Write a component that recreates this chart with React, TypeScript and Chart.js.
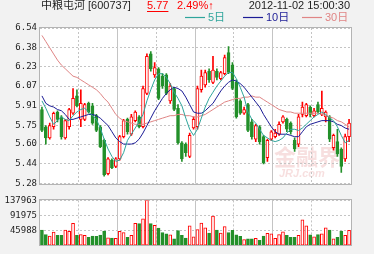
import React, { useEffect, useRef } from 'react';
import { Chart, registerables } from 'chart.js';

Chart.register(...registerables);

const TITLE = '中粮屯河 [600737]';
const LAST_PRICE = '5.77';
const CHANGE = '2.49%↑';
const TIME = '2012-11-02 15:00:30';

const OPEN = [
  5.88, 5.74, 5.65, 5.74, 5.86, 5.82, 5.65, 5.74, 5.85, 5.99,
  5.80, 5.80, 5.93, 5.91, 5.83, 5.74, 5.63, 5.36, 5.47, 5.42,
  5.48, 5.66, 5.80, 5.68, 5.79, 5.82, 5.74, 6.01, 6.33, 6.16,
  6.21, 6.15, 6.16, 5.95, 6.05, 5.89, 5.61, 5.60, 5.50, 5.73,
  5.74, 6.04, 6.08, 6.19, 6.10, 6.19, 6.13, 6.17, 6.34, 6.24,
  6.10, 5.95, 5.85, 5.92, 5.78, 5.64, 5.74, 5.66, 5.49, 5.64,
  5.66, 5.68, 5.78, 5.80, 5.77, 5.63, 5.60, 5.84, 5.83, 5.90,
  5.83, 5.92, 5.84, 5.82, 5.82, 5.57, 5.62, 5.56, 5.48, 5.66,
];
const CLOSE = [
  5.71, 5.65, 5.75, 5.85, 5.80, 5.66, 5.79, 5.88, 5.97, 5.91,
  5.93, 5.92, 5.86, 5.77, 5.71, 5.58, 5.35, 5.48, 5.41, 5.48,
  5.66, 5.79, 5.70, 5.82, 5.86, 5.74, 6.05, 6.31, 6.21, 6.22,
  5.97, 6.07, 6.01, 6.07, 5.88, 5.61, 5.48, 5.53, 5.67, 5.80,
  6.05, 6.15, 6.18, 6.12, 6.20, 6.14, 6.18, 6.30, 6.18, 6.05,
  5.82, 5.85, 5.88, 5.71, 5.66, 5.75, 5.62, 5.45, 5.63, 5.70,
  5.69, 5.76, 5.82, 5.72, 5.70, 5.56, 5.82, 5.90, 5.92, 5.84,
  5.87, 5.86, 5.89, 5.86, 5.64, 5.67, 5.52, 5.42, 5.66, 5.77,
];
const HIGH = [
  5.90, 5.75, 5.77, 5.86, 5.87, 5.83, 5.80, 5.89, 6.05, 6.04,
  6.04, 5.93, 5.94, 5.93, 5.84, 5.75, 5.64, 5.49, 5.48, 5.49,
  5.67, 5.80, 5.81, 5.84, 5.87, 5.83, 6.07, 6.33, 6.35, 6.26,
  6.22, 6.17, 6.17, 6.09, 6.06, 5.92, 5.62, 5.61, 5.69, 5.82,
  6.07, 6.20, 6.20, 6.21, 6.31, 6.21, 6.19, 6.32, 6.39, 6.26,
  6.12, 5.96, 5.90, 5.93, 5.80, 5.76, 5.75, 5.67, 5.64, 5.71,
  5.72, 5.78, 5.83, 5.81, 5.78, 5.65, 5.84, 5.94, 5.93, 5.91,
  5.89, 5.94, 6.03, 5.87, 5.83, 5.68, 5.72, 5.57, 5.68, 5.80,
];
const LOW = [
  5.70, 5.60, 5.64, 5.72, 5.78, 5.64, 5.64, 5.72, 5.84, 5.90,
  5.74, 5.79, 5.85, 5.76, 5.70, 5.57, 5.34, 5.35, 5.40, 5.41,
  5.47, 5.65, 5.68, 5.67, 5.78, 5.73, 5.73, 6.00, 6.19, 6.14,
  5.96, 6.05, 6.00, 5.93, 5.87, 5.60, 5.46, 5.50, 5.49, 5.72,
  5.72, 6.02, 6.06, 6.10, 6.09, 6.12, 6.12, 6.16, 6.17, 6.04,
  5.81, 5.84, 5.84, 5.70, 5.64, 5.62, 5.60, 5.44, 5.46, 5.63,
  5.65, 5.67, 5.77, 5.70, 5.68, 5.54, 5.58, 5.82, 5.82, 5.82,
  5.82, 5.85, 5.83, 5.78, 5.62, 5.55, 5.50, 5.37, 5.46, 5.62,
];
const VOLUME = [
  47600, 33400, 28900, 41400, 31600, 31600, 47600, 43300, 68200, 31000,
  33400, 31000, 25400, 28900, 28000, 32000, 44000, 24000, 23000, 22000,
  43300, 40000, 25400, 31000, 68000, 67000, 81600, 137963, 67000, 61500,
  53500, 40000, 35700, 33000, 21000, 46000, 31000, 23000, 60600, 26700,
  49000, 68600, 54400, 38300, 90000, 47200, 38300, 57900, 40100, 46300,
  33000, 28500, 18700, 20500, 20500, 22300, 16000, 29400, 37400, 35600,
  22300, 33900, 41900, 31200, 25000, 25000, 31200, 78400, 60600, 33000,
  26700, 33900, 35600, 54400, 47200, 20500, 25000, 44600, 31200, 46300,
];
const MA5 = [
  5.95, 5.89, 5.82, 5.76, 5.79, 5.82, 5.80, 5.79, 5.83, 5.86,
  5.88, 5.89, 5.86, 5.83, 5.80, 5.73, 5.64, 5.56, 5.50, 5.46,
  5.47, 5.53, 5.63, 5.68, 5.73, 5.78, 5.84, 5.95, 6.04, 6.12,
  6.17, 6.17, 6.14, 6.09, 6.02, 5.97, 5.91, 5.81, 5.72, 5.67,
  5.72, 5.81, 5.90, 5.97, 6.02, 6.07, 6.11, 6.15, 6.18, 6.18,
  6.13, 6.06, 5.98, 5.86, 5.80, 5.77, 5.72, 5.67, 5.65, 5.63,
  5.62, 5.63, 5.65, 5.69, 5.72, 5.72, 5.71, 5.73, 5.76, 5.79,
  5.82, 5.84, 5.86, 5.84, 5.81, 5.79, 5.74, 5.67, 5.61, 5.63,
];
const MA10 = [
  5.99, 5.93, 5.91, 5.90, 5.88, 5.87, 5.84, 5.80, 5.80, 5.81,
  5.82, 5.83, 5.84, 5.84, 5.83, 5.81, 5.78, 5.75, 5.70, 5.65,
  5.62, 5.60, 5.60, 5.60, 5.61, 5.64, 5.69, 5.75, 5.81, 5.87,
  5.92, 5.97, 6.01, 6.04, 6.06, 6.05, 6.03, 5.98, 5.92, 5.86,
  5.85, 5.85, 5.87, 5.90, 5.93, 5.98, 6.03, 6.07, 6.10, 6.12,
  6.11, 6.09, 6.06, 6.02, 5.98, 5.94, 5.90, 5.84, 5.79, 5.74,
  5.70, 5.68, 5.68, 5.68, 5.67, 5.66, 5.66, 5.70, 5.74, 5.76,
  5.77, 5.78, 5.79, 5.79, 5.79, 5.78, 5.76, 5.75, 5.73, 5.72,
];
const MA30 = [
  6.48, 6.43, 6.38, 6.33, 6.28, 6.24, 6.21, 6.18, 6.15, 6.14,
  6.12, 6.10, 6.08, 6.06, 6.04, 6.01, 5.97, 5.94, 5.89, 5.84,
  5.81, 5.79, 5.78, 5.77, 5.76, 5.76, 5.76, 5.77, 5.78, 5.79,
  5.80, 5.81, 5.82, 5.83, 5.83, 5.84, 5.84, 5.83, 5.83, 5.82,
  5.82, 5.83, 5.84, 5.86, 5.88, 5.90, 5.92, 5.94, 5.95, 5.96,
  5.97, 5.97, 5.98, 5.98, 5.99, 5.98, 5.98, 5.96, 5.94, 5.92,
  5.90, 5.88, 5.87, 5.86, 5.86, 5.85, 5.85, 5.85, 5.85, 5.85,
  5.85, 5.85, 5.84, 5.83, 5.82, 5.81, 5.79, 5.78, 5.76, 5.74,
];
const PRICE_TICKS = ['5.28', '5.44', '5.60', '5.75', '5.91', '6.07', '6.23', '6.38', '6.54'];
const VOLUME_TICKS = ['0', '45988', '91975', '137963'];
const LABELS = OPEN.map((_, i) => String(i + 1));

const RED = '#ff0000';
const GREEN = '#23902a';
const TEAL = '#2fa59c';
const NAVY = '#1c1c96';
const SALMON = '#e08585';
const PAGE_BG = '#f2f2f2';
const GRID = '#c4c4c4';
const BORDER = '#b4b4b4';
const TEXT = '#1e1e1e';
const MONO = '"DejaVu Sans Mono", monospace';
const SANS = '"Liberation Sans", "Noto Sans CJK SC", sans-serif';

const LEGEND = [
  { label: '5日', color: TEAL, x: 185 },
  { label: '10日', color: NAVY, x: 243 },
  { label: '30日', color: SALMON, x: 302 },
];

const up = (i: number) => CLOSE[i] >= OPEN[i];

function panelPlugin(drawHeader: boolean) {
  return {
    id: 'panel' + (drawHeader ? 'A' : 'B'),
    beforeDraw(chart: any) {
      const { ctx, chartArea: a, width, height } = chart;
      ctx.save();
      ctx.fillStyle = PAGE_BG;
      ctx.fillRect(0, 0, width, height);
      ctx.fillStyle = '#ffffff';
      ctx.fillRect(a.left, a.top, a.right - a.left, a.bottom - a.top);
      if (drawHeader) {
        ctx.fillStyle = 'rgba(225,140,140,0.28)';
        ctx.font = 'bold 22px "Noto Sans CJK SC", sans-serif';
        ctx.textBaseline = 'middle';
        ctx.fillText('金融界', 274, 157);
        ctx.font = 'italic bold 11px "Liberation Sans", sans-serif';
        ctx.fillText('JRJ.com', 279, 174);
      }
      ctx.restore();
    },
    beforeDatasetsDraw(chart: any) {
      const { ctx, chartArea: a } = chart;
      const xs = chart.scales.x;
      ctx.save();
      ctx.strokeStyle = GRID;
      ctx.lineWidth = 1;
      for (let k = 10; k < LABELS.length; k += 10) {
        const px = Math.round((xs.getPixelForValue(k - 1) + xs.getPixelForValue(k)) / 2) - 0.5;
        ctx.setLineDash(k % 20 === 0 ? [] : [2, 2]);
        ctx.beginPath();
        ctx.moveTo(px, a.top);
        ctx.lineTo(px, a.bottom);
        ctx.stroke();
      }
      ctx.restore();
    },
    afterDraw(chart: any) {
      const { ctx, chartArea: a } = chart;
      ctx.save();
      ctx.strokeStyle = BORDER;
      ctx.lineWidth = 1;
      ctx.strokeRect(Math.round(a.left) - 0.5, Math.round(a.top) - 0.5, Math.round(a.right - a.left) + 1, Math.round(a.bottom - a.top) + 1);
      if (drawHeader) {
        ctx.textBaseline = 'middle';
        ctx.font = '11px ' + SANS;
        ctx.fillStyle = TEXT;
        ctx.textAlign = 'left';
        ctx.fillText(TITLE, 41, 6);
        ctx.fillStyle = RED;
        ctx.fillText(LAST_PRICE, 147, 6);
        const w = ctx.measureText(LAST_PRICE).width;
        ctx.fillRect(147, 11, w, 1);
        ctx.fillText(CHANGE, 177, 6);
        ctx.fillStyle = TEXT;
        ctx.textAlign = 'right';
        ctx.fillText(TIME, 350, 6);
        ctx.textAlign = 'left';
        for (const item of LEGEND) {
          ctx.strokeStyle = item.color;
          ctx.lineWidth = 1.2;
          ctx.beginPath();
          ctx.moveTo(item.x, 17.5);
          ctx.lineTo(item.x + 20, 17.5);
          ctx.stroke();
          ctx.fillStyle = item.color;
          ctx.fillText(item.label, item.x + 23, 18);
        }
      }
      ctx.restore();
    },
  };
}

const xScale = {
  type: 'category' as const,
  display: false,
  offset: true,
  grid: { display: false },
};

export default function App() {
  const priceRef = useRef<HTMLCanvasElement>(null);
  const volRef = useRef<HTMLCanvasElement>(null);

  useEffect(() => {
    document.body.style.margin = '0';
    const priceChart = new Chart(priceRef.current as HTMLCanvasElement, {
      type: 'bar',
      data: {
        labels: LABELS,
        datasets: [
          { type: 'line', label: '5日', data: MA5, borderColor: TEAL, borderWidth: 1, pointRadius: 0, order: 0 } as any,
          { type: 'line', label: '10日', data: MA10, borderColor: NAVY, borderWidth: 1, pointRadius: 0, order: 0 } as any,
          { type: 'line', label: '30日', data: MA30, borderColor: SALMON, borderWidth: 1, pointRadius: 0, order: 0 } as any,
          {
            type: 'bar',
            label: 'body',
            data: OPEN.map((o, i) => [o, CLOSE[i]]),
            backgroundColor: OPEN.map((_, i) => (up(i) ? '#ffffff' : GREEN)),
            borderColor: OPEN.map((_, i) => (up(i) ? RED : GREEN)),
            borderWidth: 1,
            borderSkipped: false,
            barThickness: 3,
            grouped: false,
            order: 1,
          } as any,
          {
            type: 'bar',
            label: 'wick',
            data: LOW.map((l, i) => [l, HIGH[i]]),
            backgroundColor: OPEN.map((_, i) => (up(i) ? RED : GREEN)),
            borderWidth: 0,
            barThickness: 1,
            grouped: false,
            order: 2,
          } as any,
        ],
      },
      options: {
        responsive: false,
        maintainAspectRatio: false,
        animation: false,
        layout: { padding: { top: 28, bottom: 4, left: 0, right: 23 } },
        plugins: { legend: { display: false }, tooltip: { enabled: false }, title: { display: false } },
        scales: {
          x: xScale,
          y: {
            min: 5.28,
            max: 6.54,
            afterFit: (s: any) => { s.width = 40; },
            afterBuildTicks: (s: any) => { s.ticks = PRICE_TICKS.map((t) => ({ value: parseFloat(t) })); },
            ticks: {
              padding: 3,
              color: TEXT,
              font: { family: MONO, size: 9 },
              callback: (_v: any, i: number) => PRICE_TICKS[i],
            },
            grid: { color: GRID, drawTicks: false },
            border: { display: false, dash: [2, 2] },
          },
        },
      },
      plugins: [panelPlugin(true)],
    });

    const volChart = new Chart(volRef.current as HTMLCanvasElement, {
      type: 'bar',
      data: {
        labels: LABELS,
        datasets: [
          {
            label: 'volume',
            data: VOLUME,
            backgroundColor: VOLUME.map((_, i) => (up(i) ? '#ffffff' : GREEN)),
            borderColor: VOLUME.map((_, i) => (up(i) ? RED : GREEN)),
            borderWidth: 1,
            borderSkipped: false,
            barThickness: 3,
          } as any,
        ],
      },
      options: {
        responsive: false,
        maintainAspectRatio: false,
        animation: false,
        layout: { padding: { top: 8, bottom: 2, left: 0, right: 23 } },
        plugins: { legend: { display: false }, tooltip: { enabled: false } },
        scales: {
          x: xScale,
          y: {
            min: 0,
            max: 137963,
            afterFit: (s: any) => { s.width = 40; },
            afterBuildTicks: (s: any) => { s.ticks = VOLUME_TICKS.map((t) => ({ value: parseFloat(t) })); },
            ticks: {
              padding: 3,
              color: TEXT,
              font: { family: MONO, size: 9 },
              callback: (_v: any, i: number) => (i === 0 ? '' : VOLUME_TICKS[i]),
            },
            grid: { color: GRID, drawTicks: false },
            border: { display: false, dash: [2, 2] },
          },
        },
      },
      plugins: [panelPlugin(false)],
    });

    return () => {
      priceChart.destroy();
      volChart.destroy();
    };
  }, []);

  return (
    <div style={{ position: 'relative', width: 374, height: 254, background: PAGE_BG, overflow: 'hidden' }}>
      <canvas ref={priceRef} width={374} height={192} style={{ position: 'absolute', left: 0, top: 0 }} />
      <canvas ref={volRef} width={374} height={62} style={{ position: 'absolute', left: 0, top: 192 }} />
    </div>
  );
}
